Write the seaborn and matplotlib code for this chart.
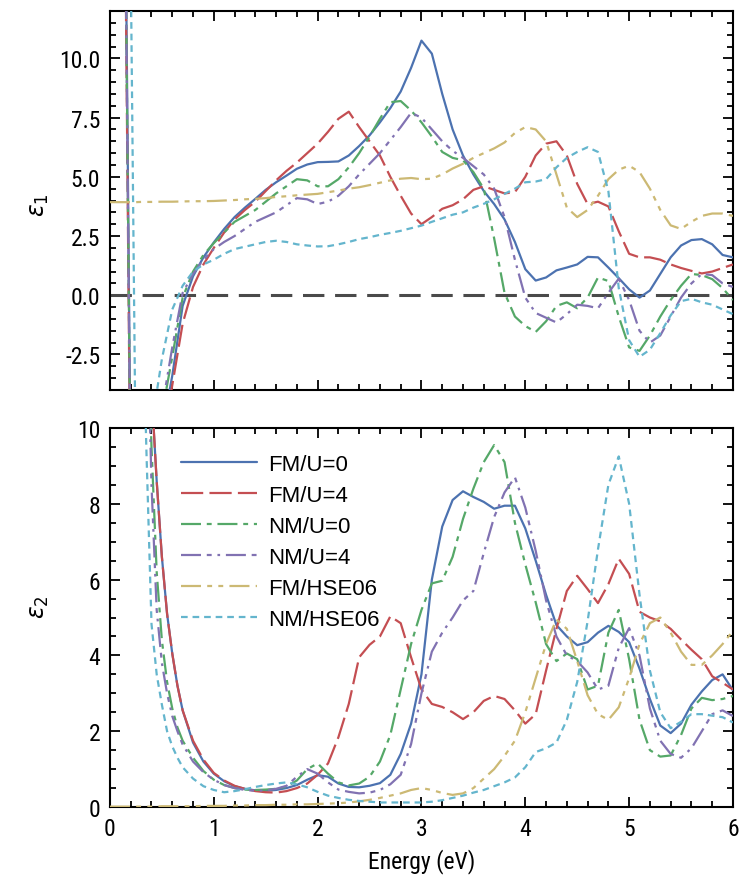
import numpy as np
import pandas as pd
import matplotlib
matplotlib.use("Agg")
import matplotlib.pyplot as plt
from matplotlib.ticker import MultipleLocator, FormatStrFormatter
import seaborn as sns

sns.set_style("ticks")
plt.rcParams["font.family"] = ["Liberation Sans", "DejaVu Sans"]
plt.rcParams["mathtext.fontset"] = "dejavusans"
for k in ["text.color", "axes.labelcolor", "xtick.color", "ytick.color", "axes.edgecolor"]:
    plt.rcParams[k] = "black"

labels = ["FM/U=0", "FM/U=4", "NM/U=0", "NM/U=4", "FM/HSE06", "NM/HSE06"]
colors = ["#4C72B0", "#C44E52", "#55A868", "#8172B2", "#CCB974", "#64B5CD"]

# ---------- epsilon_1 (real part) ----------
energy_top = [0, 0.1, 0.15, 0.2, 0.25, 0.3, 0.4, 0.5, 0.6, 0.7,
              0.8, 0.9, 1.0, 1.1, 1.2, 1.3, 1.4, 1.5, 1.6, 1.7, 1.8, 1.9,
              2.0, 2.1, 2.2, 2.3, 2.4, 2.5, 2.6, 2.7, 2.8, 2.9,
              3.0, 3.1, 3.2, 3.3, 3.4, 3.5, 3.6, 3.7, 3.8, 3.9,
              4.0, 4.1, 4.2, 4.3, 4.4, 4.5, 4.6, 4.7, 4.8, 4.9,
              5.0, 5.1, 5.2, 5.3, 5.4, 5.5, 5.6, 5.7, 5.8, 5.9, 6.0]

eps1_fm_u0 = [60, 35, 16, -8, -18, -16, -10, -5.8, -3.4, -0.45,
              0.8, 1.6, 2.23, 2.8, 3.3, 3.7, 4.07, 4.45, 4.77, 5.05, 5.34, 5.52,
              5.62, 5.63, 5.65, 5.9, 6.3, 6.75, 7.3, 7.9, 8.6, 9.6,
              10.75, 10.2, 8.5, 7.0, 5.9, 5.1, 4.4, 3.85, 3.2, 2.25,
              1.1, 0.62, 0.75, 1.05, 1.17, 1.3, 1.62, 1.6, 1.17, 0.72,
              0.25, -0.1, 0.2, 0.9, 1.6, 2.1, 2.33, 2.37, 2.15, 1.7, 1.6]
eps1_fm_u4 = [60, 35, 14, -10, -20, -18, -11, -6.5, -3.8, -1.2,
              0.35, 1.3, 2.0, 2.65, 3.2, 3.6, 3.95, 4.4, 4.85, 5.25, 5.6, 6.0,
              6.4, 6.9, 7.45, 7.75, 7.1, 6.5, 5.9, 5.0, 4.2, 3.45,
              3.0, 3.3, 3.65, 3.8, 4.05, 4.45, 4.6, 4.45, 4.3, 4.35,
              5.0, 5.9, 6.4, 6.5, 5.9, 4.7, 3.85, 3.95, 3.75, 2.7,
              1.75, 1.6, 1.6, 1.5, 1.3, 1.15, 1.03, 0.92, 1.0, 1.15, 1.3]
eps1_nm_u0 = [60, 35, 15, -9, -18, -15, -9, -5, -2.6, -0.1,
              1.0, 1.7, 2.2, 2.65, 3.1, 3.35, 3.6, 3.95, 4.3, 4.6, 4.9, 4.85,
              4.6, 4.6, 4.9, 5.4, 6.0, 6.7, 7.45, 8.15, 8.2, 7.8,
              7.3, 6.7, 6.05, 5.8, 5.7, 5.2, 4.5, 2.4, 0.1, -0.9,
              -1.3, -1.55, -1.1, -0.45, -0.3, -0.55, -0.1, 0.75, 0.6, -0.9,
              -2.2, -2.35, -1.7, -0.9, -0.2, 0.4, 0.9, 0.85, 0.68, 0.3, -0.2]
eps1_nm_u4 = [60, 35, 15, -9, -17, -14, -8, -4.8, -2.2, 0.1,
              0.9, 1.5, 1.95, 2.25, 2.5, 2.8, 3.1, 3.3, 3.5, 3.8, 4.1, 4.05,
              3.85, 3.95, 4.2, 4.6, 5.1, 5.55, 6.0, 6.55, 7.1, 7.7,
              7.5, 7.0, 6.5, 6.1, 5.8, 5.45, 5.1, 4.5, 3.3, 1.5,
              -0.1, -0.75, -0.95, -1.15, -0.8, -0.4, -0.45, -0.55, 0.1, 0.7,
              -0.2, -1.5, -2.0, -1.7, -0.9, -0.1, 0.5, 0.9, 0.85, 0.5, 0.35]
eps1_fm_hse = [3.93, 3.93, 3.93, 3.93, 3.93, 3.94, 3.94, 3.95, 3.95, 3.96,
               3.97, 3.97, 3.98, 4.0, 4.02, 4.05, 4.07, 4.1, 4.15, 4.18, 4.22, 4.25,
               4.28, 4.35, 4.42, 4.5, 4.56, 4.65, 4.75, 4.85, 4.92, 4.95,
               4.9, 4.92, 5.1, 5.35, 5.55, 5.8, 6.0, 6.2, 6.45, 6.85,
               7.1, 7.0, 6.5, 5.1, 3.7, 3.3, 3.6, 4.2, 4.9, 5.3,
               5.47, 5.2, 4.5, 3.6, 2.95, 2.8, 3.1, 3.35, 3.45, 3.45, 3.35]
eps1_nm_hse = [60, 40, 25, 14, -8, -14, -5.5, -2.7, -0.6, 0.4,
               1.0, 1.3, 1.5, 1.75, 1.95, 2.05, 2.15, 2.25, 2.3, 2.25, 2.15, 2.1,
               2.06, 2.07, 2.15, 2.25, 2.37, 2.45, 2.55, 2.63, 2.72, 2.83,
               2.94, 3.1, 3.25, 3.4, 3.5, 3.7, 3.86, 4.05, 4.28, 4.5,
               4.77, 4.8, 4.9, 5.4, 5.8, 6.05, 6.25, 6.05, 4.4, 0.3,
               -1.9, -2.6, -2.3, -1.6, -0.85, -0.25, -0.15, -0.3, -0.4, -0.6, -0.8]

# ---------- epsilon_2 (imaginary part) ----------
energy_bot = [0, 0.1, 0.2, 0.3, 0.35, 0.4, 0.45, 0.5, 0.55, 0.6, 0.65, 0.7,
              0.8, 0.9, 1.0, 1.1, 1.2, 1.3, 1.4, 1.5, 1.6, 1.7, 1.8, 1.9,
              2.0, 2.1, 2.2, 2.3, 2.4, 2.5, 2.6, 2.7, 2.8, 2.9,
              3.0, 3.1, 3.2, 3.3, 3.4, 3.5, 3.6, 3.7, 3.8, 3.9,
              4.0, 4.1, 4.2, 4.3, 4.4, 4.5, 4.6, 4.7, 4.8, 4.9,
              5.0, 5.1, 5.2, 5.3, 5.4, 5.5, 5.6, 5.7, 5.8, 5.9, 6.0]

eps2_fm_u0 = [100, 80, 50, 25, 16, 11, 8.6, 6.6, 5.1, 4.05, 3.2, 2.55,
              1.7, 1.2, 0.88, 0.68, 0.55, 0.48, 0.44, 0.43, 0.45, 0.5, 0.58, 0.72,
              0.84, 0.8, 0.62, 0.53, 0.52, 0.56, 0.63, 0.85, 1.4, 2.2,
              3.5, 6.0, 7.4, 8.1, 8.33, 8.18, 8.05, 7.87, 7.95, 7.95,
              7.35, 6.5, 5.6, 4.8, 4.5, 4.27, 4.35, 4.6, 4.78, 4.62,
              4.35, 3.65, 2.85, 2.15, 1.95, 2.2, 2.7, 3.05, 3.35, 3.5, 3.08]
eps2_fm_u4 = [100, 80, 50, 25, 16, 11, 8.6, 6.6, 5.1, 4.05, 3.2, 2.55,
              1.75, 1.25, 0.9, 0.7, 0.56, 0.48, 0.42, 0.39, 0.38, 0.42, 0.5, 0.62,
              0.85, 1.15, 1.84, 2.72, 3.95, 4.28, 4.5, 5.03, 4.85, 3.95,
              3.1, 2.72, 2.64, 2.5, 2.32, 2.5, 2.8, 2.93, 2.85, 2.55,
              2.2, 2.45, 3.6, 4.7, 5.7, 6.1, 5.75, 5.38, 5.88, 6.55,
              6.15, 5.15, 5.0, 4.9, 4.7, 4.42, 4.15, 3.9, 3.45, 3.28, 3.1]
eps2_nm_u0 = [100, 70, 40, 20, 14, 9.5, 6.2, 4.4, 3.3, 2.6, 2.1, 1.75,
              1.3, 0.95, 0.72, 0.58, 0.5, 0.46, 0.45, 0.46, 0.48, 0.54, 0.7, 1.0,
              1.15, 0.88, 0.65, 0.57, 0.62, 0.8, 1.2, 1.9, 3.1, 4.3,
              5.2, 5.9, 5.97, 6.6, 7.6, 8.4, 9.1, 9.55, 9.1, 7.5,
              6.4, 5.4, 4.3, 3.85, 4.05, 3.9, 3.1, 3.2, 4.6, 5.2,
              3.9, 2.3, 1.5, 1.33, 1.36, 1.9, 2.6, 2.88, 2.82, 2.85, 2.93]
eps2_nm_u4 = [100, 70, 38, 19, 14, 8.5, 5.2, 3.8, 3.0, 2.4, 2.0, 1.65,
              1.2, 0.92, 0.72, 0.58, 0.5, 0.45, 0.43, 0.44, 0.48, 0.56, 0.8, 1.0,
              0.88, 0.65, 0.46, 0.4, 0.36, 0.38, 0.45, 0.6, 0.85, 1.66,
              3.0, 4.1, 4.6, 5.0, 5.45, 5.7, 6.7, 7.65, 8.3, 8.7,
              7.9, 6.76, 5.45, 4.5, 4.0, 3.85, 3.55, 3.1, 3.2, 4.2,
              4.72, 4.0, 2.6, 1.75, 1.4, 1.3, 1.55, 2.0, 2.45, 2.55, 2.4]
eps2_fm_hse = [0.01, 0.01, 0.01, 0.01, 0.01, 0.01, 0.01, 0.02, 0.02, 0.02, 0.02, 0.02,
               0.02, 0.03, 0.03, 0.03, 0.04, 0.04, 0.05, 0.05, 0.06, 0.06, 0.07, 0.07,
               0.08, 0.09, 0.1, 0.12, 0.15, 0.19, 0.24, 0.3, 0.36, 0.45,
               0.5, 0.45, 0.37, 0.32, 0.36, 0.5, 0.75, 1.0, 1.35, 1.75,
               2.5, 3.4, 4.3, 4.95, 4.7, 3.85, 2.95, 2.45, 2.3, 2.63,
               3.4, 4.3, 4.85, 5.0, 4.6, 4.1, 3.75, 3.75, 4.0, 4.3, 4.65]
eps2_nm_hse = [100, 60, 30, 15, 9.5, 4.83, 3.5, 2.7, 2.0, 1.6, 1.3, 1.05,
               0.75, 0.55, 0.45, 0.39, 0.42, 0.47, 0.53, 0.58, 0.62, 0.65, 0.6, 0.52,
               0.4, 0.3, 0.24, 0.19, 0.16, 0.14, 0.12, 0.12, 0.12, 0.12,
               0.12, 0.14, 0.18, 0.24, 0.3, 0.38, 0.45, 0.55, 0.65, 0.78,
               1.05, 1.45, 1.55, 1.7, 2.3, 3.3, 4.9, 6.8, 8.5, 9.25,
               8.0, 5.6, 3.6, 2.5, 2.08, 2.25, 2.45, 2.45, 2.41, 2.37, 2.23]

eps1_series = [eps1_fm_u0, eps1_fm_u4, eps1_nm_u0, eps1_nm_u4, eps1_fm_hse, eps1_nm_hse]
eps2_series = [eps2_fm_u0, eps2_fm_u4, eps2_nm_u0, eps2_nm_u4, eps2_fm_hse, eps2_nm_hse]

lw = 1.6
styles = [
    "-",
    (0, (10.0, 2.8)),
    (0, (9.0, 2.6, 2.2, 2.6)),
    (0, (9.0, 2.6, 2.2, 2.6, 1.2, 2.6)),
    (0, (9.0, 2.8, 2.2, 2.8, 2.2, 2.8)),
    (0, (3.0, 2.2)),
]

fig = plt.figure(figsize=(7.43, 8.78), dpi=100)
ax1 = fig.add_axes([0.148, 0.5547, 0.8385, 0.4316])
ax2 = fig.add_axes([0.148, 0.0797, 0.8385, 0.4317])

df1 = pd.DataFrame({"Energy": energy_top})
df2 = pd.DataFrame({"Energy": energy_bot})
for i, lab in enumerate(labels):
    df1[lab] = eps1_series[i]
    df2[lab] = eps2_series[i]

ax1.axhline(0, color="#4a4a4a", lw=2.2, ls=(0, (7, 3.5)), zorder=1)

for i, lab in enumerate(labels):
    sns.lineplot(data=df1, x="Energy", y=lab, ax=ax1, color=colors[i], lw=lw,
                 linestyle=styles[i], zorder=3, legend=False)
    sns.lineplot(data=df2, x="Energy", y=lab, ax=ax2, color=colors[i], lw=lw,
                 linestyle=styles[i], zorder=3, label=lab)

ax1.set_xlim(0, 6)
ax1.set_ylim(-4, 12)
ax2.set_xlim(0, 6)
ax2.set_ylim(0, 10)

ax1.xaxis.set_major_locator(MultipleLocator(1))
ax1.xaxis.set_minor_locator(MultipleLocator(0.2))
ax1.yaxis.set_major_locator(MultipleLocator(2.5))
ax1.yaxis.set_minor_locator(MultipleLocator(0.5))
ax1.yaxis.set_major_formatter(FormatStrFormatter("%.1f"))
ax2.xaxis.set_major_locator(MultipleLocator(1))
ax2.xaxis.set_minor_locator(MultipleLocator(0.2))
ax2.yaxis.set_major_locator(MultipleLocator(2))
ax2.yaxis.set_minor_locator(MultipleLocator(0.5))

narrow = ["Roboto Condensed", "Liberation Sans", "DejaVu Sans"]
for ax in (ax1, ax2):
    ax.tick_params(which="both", direction="in", top=True, right=True, width=1.3,
                   colors="black")
    ax.tick_params(which="major", length=7, labelsize=17, pad=7)
    ax.tick_params(which="minor", length=4)
    for sp in ax.spines.values():
        sp.set_linewidth(1.5)
        sp.set_color("black")

ax1.set_xticklabels([])
ax1.set_xlabel("")
fig.canvas.draw()
for ax in (ax1, ax2):
    for t in ax.get_xticklabels() + ax.get_yticklabels():
        t.set_family(narrow)

ax1.set_ylabel(r"$\varepsilon_1$", fontsize=17)
ax2.set_ylabel(r"$\varepsilon_2$", fontsize=17)
ax1.yaxis.set_label_coords(-0.094, 0.49)
ax2.yaxis.set_label_coords(-0.094, 0.53)
ax2.set_xlabel("Energy (eV)", fontsize=17, family=narrow, labelpad=6)

leg = ax2.legend(loc="upper left", bbox_to_anchor=(0.1, 0.955), frameon=False,
                 fontsize=16, handlelength=3.4, handletextpad=0.5,
                 labelspacing=0.45, borderaxespad=0)

fig.savefig("out.png", dpi=100)
